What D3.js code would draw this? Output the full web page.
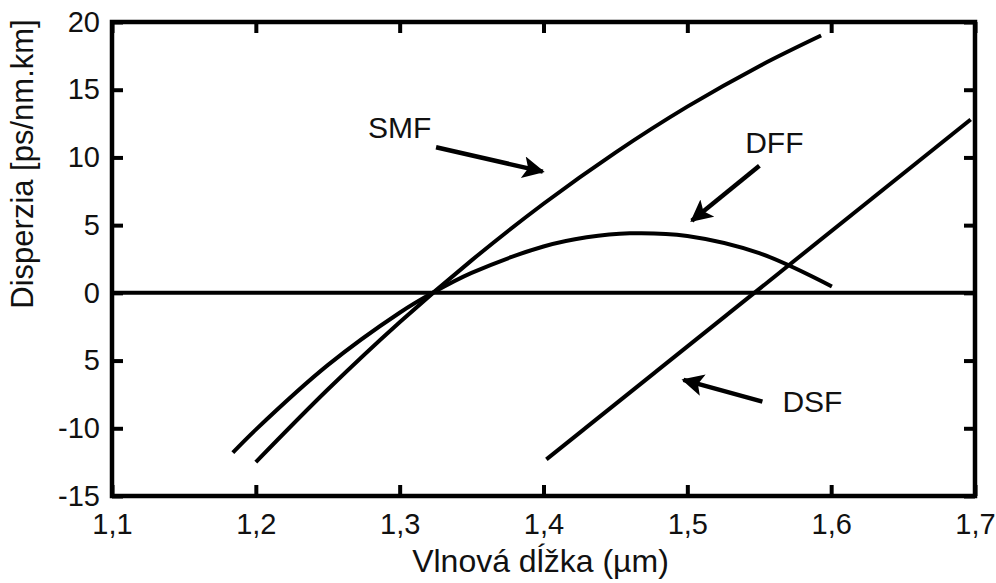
<!DOCTYPE html>
<html>
<head>
<meta charset="utf-8">
<script src="https://cdn.jsdelivr.net/npm/d3@7"></script>
<style>
  body { margin: 0; background: #fff; }
  svg { display: block; font-family: "Liberation Sans", Arial, sans-serif; }
  .tick text { font-size: 29px; fill: #111; }
</style>
</head>
<body>
<svg width="996" height="583"></svg>
<script>
// wavelength in µm, dispersion in ps/nm.km
let smfData = [[1.2, -12.5], [1.25, -7.14], [1.3, -2.17], [1.35, 2.4], [1.4, 6.58],
               [1.45, 10.36], [1.5, 13.75], [1.55, 16.74], [1.593, 19.0]];
let dffData = [[1.184, -11.8], [1.2, -10.1], [1.25, -5.34], [1.3, -1.47], [1.323, 0],
               [1.35, 1.47], [1.4, 3.42], [1.43, 4.1], [1.46, 4.4], [1.5, 4.2], [1.55, 2.93], [1.6005, 0.47]];
let dsfData = [[1.402, -12.3], [1.697, 12.8]];

let xTicks = [1.1, 1.2, 1.3, 1.4, 1.5, 1.6, 1.7];
let yTicks = [20, 15, 10, 5, 0, -5, -10, -15];
// the picture prints "5" for -5
let yTickLabels = ['20', '15', '10', '5', '0', '5', '-10', '-15'];

let labels = [
    { text: 'SMF', x: 1.278, y: 11.44, from: [1.3253, 10.75], to: [1.3995, 8.95] },
    { text: 'DFF', x: 1.5402, y: 10.31, from: [1.5501, 9.39], to: [1.5031, 5.33] },
    { text: 'DSF', x: 1.5661, y: -8.77, from: [1.5522, -8.03], to: [1.4973, -6.43] }
];

let svg = d3.select('svg');
let mLeft = 112, mRight = 975, mTop = 22, mBottom = 496;

let x = d3.scaleLinear().domain([1.1, 1.7]).range([mLeft, mRight]);
let y = d3.scaleLinear().domain([-15, 20]).range([mBottom, mTop]);

let comma = d3.formatLocale({ decimal: ',', thousands: ' ', grouping: [3], currency: ['', ''] }).format('.1f');

/**
 * draws one side of the frame ticks
 *
 * @param {Object} axis the d3 axis
 * @param {string} transalate the transform
 * @return {Object} the group
 */
let drawAxis = (axis, transalate) => {
    let g = svg.append('g').attr('transform', transalate).call(axis);
    g.select('.domain').remove();
    g.selectAll('.tick line').attr('stroke', '#000').attr('stroke-width', 4);
    return g;
};

drawAxis(d3.axisBottom(x).tickValues(xTicks).tickSize(-11).tickPadding(17).tickFormat(comma), `translate(0, ${mBottom})`);
drawAxis(d3.axisTop(x).tickValues(xTicks).tickSize(-11).tickFormat(''), `translate(0, ${mTop})`);
drawAxis(d3.axisLeft(y).tickValues(yTicks).tickSize(-11).tickPadding(12).tickFormat((d, i) => yTickLabels[i]), `translate(${mLeft}, 0)`);
drawAxis(d3.axisRight(y).tickValues(yTicks).tickSize(-11).tickFormat(''), `translate(${mRight}, 0)`);

// zero line
svg.append('line')
    .attr('x1', x(1.1)).attr('x2', x(1.7))
    .attr('y1', y(0)).attr('y2', y(0))
    .attr('stroke', '#000').attr('stroke-width', 4);

// frame
svg.append('rect')
    .attr('x', mLeft).attr('y', mTop)
    .attr('width', mRight - mLeft).attr('height', mBottom - mTop)
    .attr('fill', 'none').attr('stroke', '#000').attr('stroke-width', 4.5);

let line = d3.line().x(d => x(d[0])).y(d => y(d[1]));

svg.append('path')
    .attr('d', line.curve(d3.curveCatmullRom)(smfData))
    .attr('fill', 'none').attr('stroke', '#000').attr('stroke-width', 4);
svg.append('path')
    .attr('d', line.curve(d3.curveCatmullRom)(dffData))
    .attr('fill', 'none').attr('stroke', '#000').attr('stroke-width', 4);
svg.append('path')
    .attr('d', line.curve(d3.curveLinear)(dsfData))
    .attr('fill', 'none').attr('stroke', '#000').attr('stroke-width', 4);

// arrow head
svg.append('defs').append('marker')
    .attr('id', 'head')
    .attr('markerUnits', 'userSpaceOnUse')
    .attr('markerWidth', 24).attr('markerHeight', 24)
    .attr('refX', 20).attr('refY', 11)
    .attr('orient', 'auto')
    .append('path')
    .attr('d', 'M0,0 L22,11 L0,22 L5,11 Z')
    .attr('fill', '#000');

labels.forEach(l => {
    svg.append('text')
        .attr('x', x(l.x)).attr('y', y(l.y))
        .attr('font-size', 30).attr('fill', '#111')
        .text(l.text);
    svg.append('line')
        .attr('x1', x(l.from[0])).attr('y1', y(l.from[1]))
        .attr('x2', x(l.to[0])).attr('y2', y(l.to[1]))
        .attr('stroke', '#000').attr('stroke-width', 4.5)
        .attr('marker-end', 'url(#head)');
});

// axis titles
svg.append('text')
    .attr('x', (mLeft + mRight) / 2 - 3).attr('y', 572)
    .attr('text-anchor', 'middle').attr('font-size', 32).attr('fill', '#111')
    .text('Vlnová dĺžka (µm)');
svg.append('text')
    .attr('transform', 'translate(33, 164) rotate(-90)')
    .attr('text-anchor', 'middle').attr('font-size', 31).attr('fill', '#111')
    .text('Disperzia [ps/nm.km]');
</script>
</body>
</html>
